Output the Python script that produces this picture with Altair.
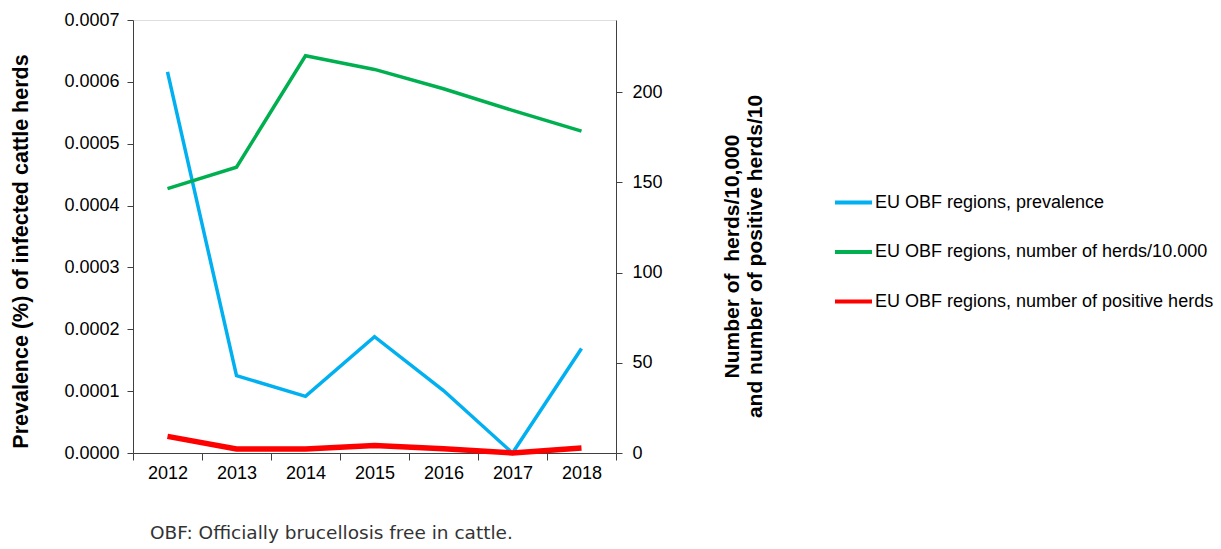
import altair as alt
import pandas as pd

years = ["2012", "2013", "2014", "2015", "2016", "2017", "2018"]
prevalence = [0.000616, 0.000125, 0.0000915, 0.000188, 0.000101, 0.0, 0.000169]
herds_10000 = [146.5, 158.4, 220.2, 212.6, 201.9, 189.9, 178.4]
positive_herds = [9.2, 2.2, 2.2, 4.1, 2.4, 0.0, 2.8]

series_names = [
    "EU OBF regions, prevalence",
    "EU OBF regions, number of herds/10.000",
    "EU OBF regions, number of positive herds",
]
series_colors = ["#00B0F0", "#00B050", "#FF0000"]
left_ticks = [0, 0.0001, 0.0002, 0.0003, 0.0004, 0.0005, 0.0006, 0.0007]
right_ticks = [0, 50, 100, 150, 200]
left_title = "Prevalence (%) of infected cattle herds"
right_title = ["Number of\u00a0 herds/10,000", "and number of positive herds/10"]
footnote = "OBF: Officially brucellosis free in cattle."

rows = []
for s, vals in zip(series_names, [prevalence, herds_10000, positive_herds]):
    for yr, v in zip(years, vals):
        rows.append({"year": yr, "series": s, "value": v})
df = pd.DataFrame(rows)

FONT = "Liberation Sans"
AX = "#404040"

x_enc = alt.X(
    "year:O",
    title=None,
    bandPosition=0.5,
    scale=alt.Scale(type="band", paddingInner=0, paddingOuter=0),
    axis=alt.Axis(labelAngle=0, tickBand="extent", tickSize=7, labelPadding=4,
                  labelFont=FONT, labelFontSize=18, labelColor="#000",
                  domainColor=AX, tickColor=AX, grid=False),
)

color_enc = alt.Color(
    "series:N",
    scale=alt.Scale(domain=series_names, range=series_colors),
    legend=alt.Legend(
        title=None, orient="none", legendX=700, legendY=162,
        symbolType="stroke", symbolSize=1369, symbolStrokeWidth=4,
        labelFont=FONT, labelFontSize=18, labelColor="#000", labelLimit=0,
        rowPadding=19.5, labelOffset=1, padding=0,
    ),
)

base = alt.Chart(df)

blue = base.transform_filter(alt.datum.series == series_names[0]).mark_line(strokeWidth=3.5).encode(
    x=x_enc,
    y=alt.Y("value:Q", scale=alt.Scale(domain=[0, 0.0007], nice=False),
            axis=alt.Axis(values=left_ticks, format=".4f", grid=False, tickSize=6,
                          labelPadding=8, labelFont=FONT, labelFontSize=18, labelColor="#000",
                          domainColor=AX, tickColor=AX, title=left_title,
                          titleFont=FONT, titleFontSize=21.5, titleFontWeight="bold",
                          titleColor="#000", titlePadding=31, titleY=231)),
    color=color_enc,
)

right_axis = alt.Axis(orient="right", values=right_ticks, grid=False, tickSize=6,
                      labelPadding=10, labelFont=FONT, labelFontSize=18, labelColor="#000",
                      domainColor=AX, tickColor=AX, title=right_title,
                      titleFont=FONT, titleFontSize=21, titleFontWeight="bold",
                      titleColor="#000", titleAngle=270, titleBaseline="top",
                      titlePadding=36, titleY=236)

green = base.transform_filter(alt.datum.series == series_names[1]).mark_line(strokeWidth=3.5).encode(
    x=x_enc,
    y=alt.Y("value:Q", scale=alt.Scale(domain=[0, 240], nice=False), axis=right_axis),
    color=color_enc,
)
red = base.transform_filter(alt.datum.series == series_names[2]).mark_line(strokeWidth=5.5).encode(
    x=x_enc,
    y=alt.Y("value:Q", scale=alt.Scale(domain=[0, 240], nice=False), axis=right_axis),
    color=color_enc,
)

note = alt.Chart(alt.Data(values=[{"t": footnote}])).mark_text(
    align="left", baseline="alphabetic", font="DejaVu Sans", fontSize=18.5, color="#333333"
).encode(text="t:N", x=alt.value(17), y=alt.value(519))

chart = alt.layer(
    blue, alt.layer(green, red), note
).resolve_scale(y="independent").properties(
    width=483, height=433,
    autosize=alt.AutoSizeParams(type="none"),
    padding={"left": 125, "top": 12, "right": 597, "bottom": 90},
).configure_view(stroke=None).configure(background="white")

chart.save("out.html", embed_options={"renderer": "svg", "actions": False})
